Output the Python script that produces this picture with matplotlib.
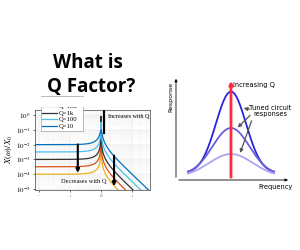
import numpy as np
import matplotlib
matplotlib.use("Agg")
from matplotlib import pyplot as plt
from matplotlib.patches import Rectangle

plt.rcParams["mathtext.fontset"] = "stix"

# ################ Data: left panel (oscillator response vs frequency). ################ #
q_values = [100000, 10000, 1000, 100, 10]
q_labels = ["Q=100k", "Q=10k", "Q=1k", "Q=100", "Q=10"]
q_colors = ["#EDB120", "#D95319", "#333333", "#4DBEEE", "#0072BD"]
low_freq_levels = [1e-4, 3.2e-4, 1e-3, 3.2e-3, 1e-2]
x_tick_exponents = [-2, -1, 0, 1]
x_tick_labels = ["-", "ı", "0", "ı"]
y_tick_exponents = [0, -1, -2, -3, -4, -5]

# ################ Data: right panel (tuned circuit responses). ################ #
tuned_peaks = [0.85, 0.50, 0.25]
tuned_floors = [0.067, 0.048, 0.029]
tuned_widths = [0.13, 0.16, 0.19]
tuned_colors = ["#2626E0", "#6A5FD8", "#ADA6EE"]
centre_freq = 0.474

W, H = 300, 250
fig = plt.figure(figsize=(3, 2.5), dpi=100)


def box(px_left, px_top, px_right, px_bottom):
    return [px_left / W, 1 - px_bottom / H, (px_right - px_left) / W, (px_bottom - px_top) / H]


# ################ Title. ################ #
fig.text(88 / W, 1 - 68 / H, "What is", ha="center", va="baseline",
         fontsize=13.5, fontweight="bold", family="Open Sans")
fig.text(91 / W, 1 - 92 / H, "Q Factor?", ha="center", va="baseline",
         fontsize=13.5, fontweight="bold", family="Open Sans")

# ################ Left panel. ################ #
ax = fig.add_axes(box(35, 110, 150, 189.5))
w = np.logspace(-2.2, 1.7, 4000)
for q, level, label, colour in zip(q_values, low_freq_levels, q_labels, q_colors):
    resp = level / np.sqrt((1 - w ** 2) ** 2 + (w / q) ** 2)
    ax.plot(w, resp, color=colour, lw=0.9, label=label)
ax.set_xscale("log")
ax.set_yscale("log")
ax.set_xlim(10 ** -2.13, 10 ** 1.58)
ax.set_ylim(10 ** -5.03, 10 ** 0.34)
ax.set_xticks([10.0 ** e for e in x_tick_exponents])
ax.set_xticklabels(x_tick_labels, fontsize=3, color="#555555")
ax.set_yticks([10.0 ** e for e in y_tick_exponents])
ax.set_yticklabels([f"$10^{{{e}}}$" for e in y_tick_exponents], fontsize=5)
ax.minorticks_off()
ax.tick_params(length=1.5, width=0.4, pad=1.5, which="both")
ax.grid(True, which="major", color="#e0e0e0", lw=0.3)
for e in range(-3, 2):
    for m in range(2, 10):
        ax.axvline(m * 10.0 ** e, color="#eeeeee", lw=0.3, zorder=0)
for e in range(-6, 1):
    for m in range(2, 10):
        ax.axhline(m * 10.0 ** e, color="#eeeeee", lw=0.3, zorder=0)
for s in ax.spines.values():
    s.set_linewidth(0.5)
    s.set_color("#444444")
ax.set_ylabel(r"$X(\omega)/X_0$", fontsize=6, labelpad=1)
leg = ax.legend(loc="lower left", bbox_to_anchor=(0.02, 0.70), frameon=True,
                handlelength=2.2, handletextpad=0.3, borderpad=0.25, labelspacing=0.12,
                fancybox=False, edgecolor="#888888", framealpha=1,
                prop={"family": "Liberation Serif", "size": 4.8})
leg.get_frame().set_linewidth(0.4)

# arrows / annotations
ax.annotate("", xy=(10 ** -0.75, 10 ** -4.1), xytext=(10 ** -0.75, 10 ** -1.8),
            arrowprops=dict(arrowstyle="-|>", color="black", lw=1.5, mutation_scale=5))
ax.annotate("", xy=(10 ** 0.42, 10 ** -5.0), xytext=(10 ** 0.42, 10 ** -2.55),
            arrowprops=dict(arrowstyle="-|>", color="black", lw=1.5, mutation_scale=5))
ax.plot([10 ** 0.1, 10 ** 0.1], [10 ** 0.3, 10 ** -1.2], color="black", lw=1.6, clip_on=False)
ax.text(10 ** 0.22, 10 ** -0.12, "Increases with Q", fontsize=4.4, family="Liberation Serif",
        va="center", ha="left", clip_on=False)
ax.text(10 ** -1.3, 10 ** -4.5, "Decreases with Q", fontsize=4.6, family="Liberation Serif",
        va="center", ha="left", bbox=dict(facecolor="white", edgecolor="none", pad=0.3))

# crop of the left image at the top (hide the upper legend rows)
fig.patches.append(Rectangle((0, 1 - 107 / H), 160 / W, 10 / H, transform=fig.transFigure,
                             facecolor="white", edgecolor="none", zorder=10))
fig.patches.append(Rectangle((151 / W, 1 - 200 / H), 9 / W, 95 / H, transform=fig.transFigure,
                             facecolor="white", edgecolor="none", zorder=10))

# ################ Right panel. ################ #
ax2 = fig.add_axes(box(176, 76, 292, 180))
ax2.set_xlim(0, 1)
ax2.set_ylim(0, 1)
ax2.axis("off")
f = np.linspace(0.103, 0.845, 300)
for peak, floor, width, colour in zip(tuned_peaks, tuned_floors, tuned_widths, tuned_colors):
    ax2.plot(f, floor + (peak - floor) * np.exp(-0.5 * ((f - centre_freq) / width) ** 2),
             color=colour, lw=1.3)
ax2.annotate("", xy=(0, 1.0), xytext=(0, 0),
             arrowprops=dict(arrowstyle="-|>", color="black", lw=0.6, mutation_scale=4))
ax2.annotate("", xy=(0.99, 0), xytext=(0, 0),
             arrowprops=dict(arrowstyle="-|>", color="black", lw=0.6, mutation_scale=4))
ax2.annotate("", xy=(centre_freq, 0.98), xytext=(centre_freq, 0),
             arrowprops=dict(arrowstyle="-|>", color="#FF2A3A", lw=2.0, mutation_scale=4.5))
ax2.text(-0.045, 0.80, "Response", rotation=90, fontsize=4.5, ha="center", va="center")
ax2.text(0.86, -0.07, "Frequency", fontsize=4.8, ha="center", va="center")
ax2.text(0.49, 0.915, "Increasing Q", fontsize=4.8, ha="left", va="center")
ax2.text(0.81, 0.665, "Tuned circuit\nresponses", fontsize=4.8, ha="center", va="center",
         linespacing=0.95)
tails = [(0.655, 0.675), (0.655, 0.64), (0.66, 0.595)]
head_x = [0.56, 0.515, 0.545]
for (tx, ty), hx, peak, floor, width in zip(tails, head_x, tuned_peaks, tuned_floors, tuned_widths):
    hy = floor + (peak - floor) * np.exp(-0.5 * ((hx - centre_freq) / width) ** 2)
    ax2.annotate("", xy=(hx, hy), xytext=(tx, ty),
                 arrowprops=dict(arrowstyle="-|>", color="#555555", lw=0.9, mutation_scale=5))

fig.savefig("out.png", dpi=100)
